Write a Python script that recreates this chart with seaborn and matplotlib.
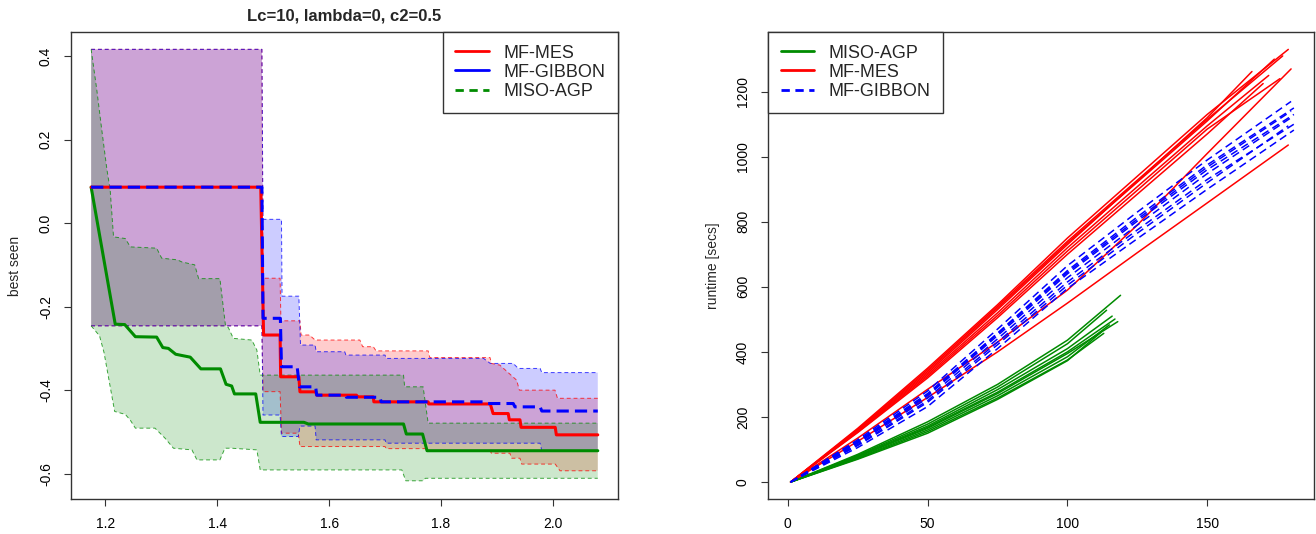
import numpy as np
import pandas as pd
import matplotlib as mpl
import matplotlib.pyplot as plt
from matplotlib.lines import Line2D
import seaborn as sns

mpl.use('agg')

# ---- left panel: best seen vs cost (step curves + min/max bands) ----
mes_x = [1.175, 1.478, 1.483, 1.5125, 1.5135, 1.546, 1.548, 1.576, 1.578, 1.649, 1.650, 1.679,
         1.680, 1.777, 1.778, 1.888, 1.893, 1.920, 1.922, 1.941, 1.943, 2.004, 2.006, 2.08]
mes_y = [0.086, 0.086, -0.268, -0.268, -0.368, -0.368, -0.404, -0.404, -0.412, -0.412, -0.416, -0.416,
         -0.428, -0.428, -0.433, -0.433, -0.456, -0.456, -0.471, -0.471, -0.489, -0.489, -0.507, -0.507]

gib_x = [1.175, 1.480, 1.482, 1.513, 1.515, 1.543, 1.547, 1.576, 1.578, 1.629, 1.631, 1.691,
         1.693, 1.876, 1.880, 1.929, 1.932, 1.977, 1.980, 2.08]
gib_y = [0.086, 0.086, -0.228, -0.228, -0.344, -0.344, -0.392, -0.392, -0.412, -0.412, -0.417, -0.417,
         -0.428, -0.428, -0.432, -0.432, -0.440, -0.440, -0.450, -0.450]

agp_x = [1.175, 1.218, 1.235, 1.254, 1.292, 1.303, 1.313, 1.326, 1.337, 1.352, 1.371, 1.406,
         1.416, 1.426, 1.431, 1.469, 1.477, 1.555, 1.563, 1.733, 1.738, 1.767, 1.775, 2.08]
agp_y = [0.086, -0.242, -0.243, -0.272, -0.273, -0.298, -0.300, -0.314, -0.317, -0.321, -0.349, -0.349,
         -0.386, -0.390, -0.409, -0.409, -0.477, -0.477, -0.481, -0.481, -0.505, -0.505, -0.545, -0.545]

mes_up_x = [1.175, 1.48, 1.482, 1.5125, 1.514, 1.548, 1.55, 1.565, 1.575, 1.655, 1.66, 1.679, 1.684,
            1.777, 1.78, 1.8875, 1.89, 1.905, 1.92, 1.935, 1.94, 2.0036, 2.008, 2.08]
mes_up_y = [0.416, 0.416, -0.132, -0.132, -0.234, -0.234, -0.268, -0.268, -0.280, -0.280, -0.296, -0.296,
            -0.306, -0.306, -0.322, -0.322, -0.336, -0.340, -0.358, -0.376, -0.400, -0.400, -0.4195, -0.4195]
mes_lo_x = [1.175, 1.48, 1.482, 1.5125, 1.515, 1.545, 1.548, 1.70, 1.702, 1.7745, 1.777, 1.8875,
            1.89, 1.923, 1.926, 1.941, 1.944, 2.004, 2.0125, 2.08]
mes_lo_y = [-0.246, -0.246, -0.4036, -0.4036, -0.503, -0.503, -0.535, -0.535, -0.540, -0.540, -0.545, -0.545,
            -0.551, -0.551, -0.563, -0.563, -0.577, -0.577, -0.593, -0.593]

gib_up_x = [1.175, 1.48, 1.482, 1.515, 1.516, 1.546, 1.549, 1.575, 1.577, 1.628, 1.630, 1.70,
            1.702, 1.876, 1.888, 1.929, 1.938, 1.977, 1.98, 2.08]
gib_up_y = [0.416, 0.416, 0.009, 0.009, -0.175, -0.175, -0.292, -0.292, -0.308, -0.308, -0.316, -0.316,
            -0.324, -0.324, -0.336, -0.336, -0.348, -0.348, -0.358, -0.358]
gib_lo_x = [1.175, 1.48, 1.482, 1.5125, 1.515, 1.545, 1.548, 1.575, 1.577, 1.70, 1.702, 1.977, 1.98, 2.08]
gib_lo_y = [-0.246, -0.246, -0.4595, -0.4595, -0.511, -0.511, -0.486, -0.486, -0.519, -0.519,
            -0.527, -0.527, -0.545, -0.545]

agp_up_x = [1.175, 1.185, 1.194, 1.203, 1.209, 1.215, 1.236, 1.245, 1.292, 1.301, 1.329, 1.337, 1.36,
            1.367, 1.405, 1.415, 1.42, 1.429, 1.462, 1.471, 1.477, 1.733, 1.735, 1.768, 1.777, 2.08]
agp_up_y = [0.416, 0.32, 0.223, 0.13, 0.079, -0.033, -0.037, -0.057, -0.060, -0.084, -0.088, -0.093, -0.10,
            -0.133, -0.133, -0.246, -0.25, -0.276, -0.280, -0.304, -0.364, -0.364, -0.392, -0.392, -0.479, -0.479]
agp_lo_x = [1.175, 1.19, 1.198, 1.217, 1.236, 1.245, 1.254, 1.289, 1.307, 1.322, 1.355, 1.364, 1.405,
            1.414, 1.426, 1.471, 1.477, 1.730, 1.737, 1.768, 1.772, 2.08]
agp_lo_y = [-0.246, -0.27, -0.31, -0.451, -0.458, -0.472, -0.491, -0.491, -0.515, -0.539, -0.543, -0.567,
            -0.567, -0.539, -0.539, -0.543, -0.591, -0.591, -0.617, -0.617, -0.611, -0.611]

# ---- right panel: runtime per run ----
mes_run_x = [[1, 25, 50, 75, 100, 125, 150, 179], [1, 25, 50, 75, 100, 125, 150, 177],
             [1, 25, 50, 75, 100, 125, 150, 174], [1, 25, 50, 75, 100, 125, 150, 180],
             [1, 25, 50, 75, 100, 125, 150, 166], [1, 25, 50, 75, 100, 125, 150, 170],
             [1, 25, 50, 75, 100, 125, 150, 172], [1, 25, 50, 75, 100, 125, 150, 179],
             [1, 25, 50, 75, 100, 125, 150, 176]]
mes_run_y = [[0, 165, 350, 545, 750, 940, 1130, 1330], [0, 162, 345, 540, 740, 928, 1115, 1310],
             [0, 160, 340, 535, 735, 922, 1110, 1300], [0, 135, 285, 430, 590, 790, 1010, 1270],
             [0, 158, 335, 530, 730, 925, 1120, 1262], [0, 152, 320, 505, 700, 885, 1070, 1225],
             [0, 156, 330, 520, 720, 908, 1095, 1250], [0, 125, 260, 400, 550, 705, 858, 1036],
             [0, 154, 325, 512, 710, 897, 1085, 1240]]

gib_run_x = [[1, 25, 50, 75, 100, 125, 150, 180], [1, 25, 50, 75, 100, 125, 150, 181],
             [1, 25, 50, 75, 100, 125, 150, 181], [1, 25, 50, 75, 100, 125, 150, 180],
             [1, 25, 50, 75, 100, 125, 150, 181], [1, 25, 50, 75, 100, 125, 150, 181],
             [1, 25, 50, 75, 100, 125, 150, 179], [1, 25, 50, 75, 100, 125, 150, 180]]
gib_run_y = [[0, 130, 280, 470, 665, 830, 990, 1170], [0, 126, 272, 458, 650, 815, 975, 1150],
             [0, 122, 265, 450, 640, 802, 960, 1130], [0, 119, 258, 440, 628, 790, 948, 1120],
             [0, 115, 250, 430, 615, 775, 930, 1100], [0, 106, 232, 410, 595, 748, 900, 1082],
             [0, 112, 245, 422, 605, 765, 920, 1095], [0, 124, 268, 455, 645, 808, 968, 1140]]

agp_run_x = [[1, 25, 50, 75, 100, 119], [1, 25, 50, 75, 100, 114], [1, 25, 50, 75, 100, 117],
             [1, 25, 50, 75, 100, 118], [1, 25, 50, 75, 100, 113], [1, 25, 50, 75, 100, 115],
             [1, 25, 50, 75, 100, 116], [1, 25, 50, 75, 100, 112]]
agp_run_y = [[0, 85, 185, 300, 436, 574], [0, 82, 178, 292, 425, 528], [0, 78, 168, 276, 400, 501],
             [0, 77, 165, 272, 395, 493], [0, 72, 155, 258, 375, 457], [0, 74, 160, 265, 385, 483],
             [0, 80, 172, 284, 410, 510], [0, 70, 150, 254, 373, 460]]

RED, BLUE, GREEN = '#FF0000', '#0000FF', '#008B00'

sns.set_theme(style="ticks")
plt.rcParams['font.family'] = ['Liberation Sans', 'DejaVu Sans']
plt.rcParams['axes.unicode_minus'] = False

fig = plt.figure(figsize=(13.16, 5.34), dpi=100)
ax1 = fig.add_axes([0.05395, 0.06554, 0.4156, 0.87453])
ax2 = fig.add_axes([0.58359, 0.06554, 0.4149, 0.87453])

# bands
bands = [(mes_up_x, mes_up_y, mes_lo_x, mes_lo_y, RED),
         (gib_up_x, gib_up_y, gib_lo_x, gib_lo_y, BLUE),
         (agp_up_x, agp_up_y, agp_lo_x, agp_lo_y, GREEN)]
for ux, uy, lx, ly, c in bands:
    ax1.fill(np.r_[ux, lx[::-1]], np.r_[uy, ly[::-1]], color=c, alpha=0.2, lw=0)
for ux, uy, lx, ly, c in bands:
    for bx, by in ((ux, uy), (lx, ly)):
        ax1.plot(bx, by, color=c, lw=0.7, ls=(0, (4, 3)), alpha=0.75)

sns.lineplot(x=agp_x, y=agp_y, estimator=None, sort=False, color=GREEN, lw=2.2, ax=ax1)
sns.lineplot(x=mes_x, y=mes_y, estimator=None, sort=False, color=RED, lw=2.2, ax=ax1)
sns.lineplot(x=gib_x, y=gib_y, estimator=None, sort=False, color=BLUE, lw=2.2,
             linestyle=(0, (4, 2)), ax=ax1)

ax1.set_xlim(1.139, 2.116)
ax1.set_ylim(-0.6606, 0.4575)
ax1.set_xticks([1.2, 1.4, 1.6, 1.8, 2.0])
ax1.set_yticks([-0.6, -0.4, -0.2, 0.0, 0.2, 0.4])
ax1.set_title("Lc=10, lambda=0, c2=0.5", fontsize=12, fontweight='bold', pad=8)
ax1.set_ylabel("best seen", fontsize=10)
ax1.yaxis.set_label_coords(-0.0896, 0.5)
ax1.set_xlabel("")

h1 = [Line2D([], [], color=RED, lw=2), Line2D([], [], color=BLUE, lw=2),
      Line2D([], [], color=GREEN, lw=2, ls=(0, (3, 2)))]
ax1.legend(h1, ['MF-MES', 'MF-GIBBON', 'MISO-AGP'], loc='upper right', borderaxespad=0,
           fancybox=False, edgecolor='#333333', framealpha=1, fontsize=13, handlelength=1.85,
           handletextpad=0.8, borderpad=0.7, labelspacing=0.12)

# runs
rows = []
for name, xs, ys in (('MISO-AGP', agp_run_x, agp_run_y), ('MF-MES', mes_run_x, mes_run_y),
                     ('MF-GIBBON', gib_run_x, gib_run_y)):
    for i, (rx, ry) in enumerate(zip(xs, ys)):
        for xv, yv in zip(rx, ry):
            rows.append({'method': name, 'run': f'{name}{i}', 'x': xv, 'y': yv})
df = pd.DataFrame(rows)

sns.lineplot(data=df, x='x', y='y', hue='method', units='run', estimator=None, sort=False,
             style='method', dashes={'MISO-AGP': '', 'MF-MES': '', 'MF-GIBBON': (5, 3)},
             palette={'MISO-AGP': GREEN, 'MF-MES': RED, 'MF-GIBBON': BLUE},
             lw=1.1, legend=False, ax=ax2)

ax2.set_xlim(-7.1, 188.2)
ax2.set_ylim(-52.3, 1383.5)
ax2.set_xticks([0, 50, 100, 150])
ax2.set_yticks([0, 200, 400, 600, 800, 1000, 1200])
ax2.set_ylabel("runtime [secs]", fontsize=10)
ax2.yaxis.set_label_coords(-0.088, 0.5)
ax2.set_xlabel("")

h2 = [Line2D([], [], color=GREEN, lw=2), Line2D([], [], color=RED, lw=2),
      Line2D([], [], color=BLUE, lw=2, ls=(0, (3, 2)))]
ax2.legend(h2, ['MISO-AGP', 'MF-MES', 'MF-GIBBON'], loc='upper left', borderaxespad=0,
           fancybox=False, edgecolor='#333333', framealpha=1, fontsize=13, handlelength=1.85,
           handletextpad=0.8, borderpad=0.7, labelspacing=0.12)

for ax in (ax1, ax2):
    for s in ax.spines.values():
        s.set_visible(True)
        s.set_color('#333333')
        s.set_linewidth(1)
    ax.tick_params(direction='out', length=5, width=0.8, color='#333333', labelsize=10,
                   pad=8, labelcolor='black')
    ax.tick_params(axis='y', labelrotation=90)
    plt.setp(ax.get_yticklabels(), va='center')
    ax.grid(False)

fig.savefig('out.png', dpi=100)
